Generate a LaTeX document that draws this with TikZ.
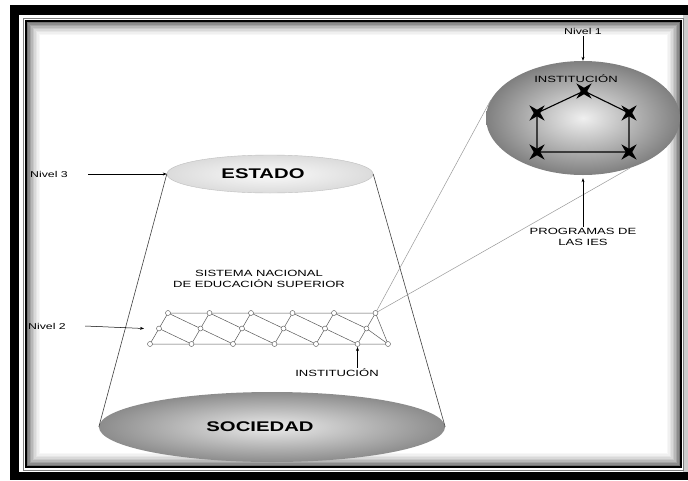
\documentclass[tikz,border=0pt]{standalone}
\usepackage{fontspec}
\setmainfont{Liberation Sans}
\usepackage{graphicx}
\usepackage{tikz}
\usetikzlibrary{positioning, shapes.geometric, arrows.meta}

\newcommand{\wtxt}[1]{\scalebox{1.45}[1]{#1}}

\begin{document}
\begin{tikzpicture}[x=1pt, y=-1pt, >={Stealth[length=4pt, width=3pt]},
        lbl/.style={inner sep=1pt, font=\fontsize{8.5}{10}\selectfont},
        captxt/.style={inner sep=1pt, font=\fontsize{9}{10.5}\selectfont, align=center},
        bigtxt/.style={inner sep=1pt, font=\bfseries\fontsize{14}{16}\selectfont},
        dot/.style={circle, draw=black!70, fill=white, inner sep=0pt, minimum size=5pt, line width=0.4pt},
        vtx/.style={star, star points=4, star point ratio=0.3, fill=black, inner sep=0pt, minimum size=6.5pt},
        zoomline/.style={black!40, line width=0.5pt},
        cone/.style={black!75, line width=0.6pt}]
        \useasboundingbox (0,0) rectangle (688,480);
        \fill[black] (10,5) rectangle (688,480);
        \fill[white] (19,15) rectangle (688,472);
        \fill[black!20] (683,15) rectangle (688,472);
        \draw[black!50, line width=0.8pt] (23,18) rectangle (683,470);
        \foreach \k/\g in {0/55,1/45,2/36,3/28,4/21,5/15,6/10,7/6,8/3}
            \draw[black!\g, line width=1.6pt] (27.5+1.5*\k, 22.5+1.5*\k) rectangle (679.5-1.5*\k, 465.5-1.5*\k);
        \draw[black, line width=2pt] (26,21) rectangle (681,467);

        \node[ellipse, draw=black!25, line width=0.4pt, shade, inner color=black!2, outer color=black!14, minimum width=206pt, minimum height=38pt] (estado) at (270,174) {};
        \node[bigtxt] (estadotxt) at (263,174) {\wtxt{ESTADO}};
        \node[ellipse, shade, inner color=black!8, outer color=black!45, minimum width=346pt, minimum height=70pt] (sociedad) at (272,427) {};
        \node[bigtxt] (sociedadtxt) at (260,427) {\wtxt{SOCIEDAD}};
        \draw[cone] (estado.west) -- (sociedad.west);
        \draw[cone] (estado.east) -- (sociedad.east);

        \node[lbl] (niv3) at (49,174) {\wtxt{Nivel 3}};
        \draw[->, line width=0.5pt] ([xshift=19pt]niv3.east) -- (estado.west);

        \node[captxt] (sistema) at (259,279) {\wtxt{SISTEMA NACIONAL}\\\wtxt{DE EDUCACIÓN SUPERIOR}};

        \foreach \i in {0,...,5} {
            \coordinate (b\i) at (150+41.5*\i, 344);
            \coordinate (t\i) at (168+41.5*\i, 313);
            \coordinate (m\i) at (159+41.5*\i, 328.5);
        }
        \coordinate (br) at (388,344);
        \draw[black!65, line width=0.5pt] (t0) -- (t5) -- (br) -- (b0) -- cycle;
        \foreach \i in {1,...,5}
            \draw[black!65, line width=0.5pt] (b\i) -- (t\i);
        \foreach \i [count=\j from 1] in {0,...,4} {
            \draw[black!65, line width=0.5pt] (t\i) -- (m\j);
            \draw[black!65, line width=0.5pt] (m\i) -- (b\j);
        }
        \draw[black!65, line width=0.5pt] (m5) -- (br);

        \node[ellipse, shade, inner color=black!6, outer color=black!50, minimum width=194pt, minimum height=114pt] (nivel1) at (583,118) {};
        \draw[zoomline] (t5) -- (nivel1.169);
        \draw[zoomline] (t5) -- (nivel1.313);

        \foreach \i in {0,...,5} {
            \node[dot] (dt\i) at (t\i) {};
            \node[dot] (dm\i) at (m\i) {};
            \node[dot] (db\i) at (b\i) {};
        }
        \node[dot] (dbr) at (br) {};

        \node[lbl] (niv2) at (47,326) {\wtxt{Nivel 2}};
        \draw[->, line width=0.5pt] ([xshift=18pt]niv2.east) -- ([xshift=-15pt]m0);

        \node[captxt] (inst) at (337,373) {\wtxt{INSTITUCIÓN}};
        \draw[->, line width=0.5pt] (inst.north -| b5) -- ([yshift=-3pt]b5);

        \node[captxt] (insttop) at (576,79) {\wtxt{INSTITUCIÓN}};
        \coordinate (hp) at (584,91);
        \coordinate (hl) at (537,113);
        \coordinate (hr) at (629,113);
        \coordinate (hbl) at (537,152);
        \coordinate (hbr) at (629,152);
        \draw[line width=1.1pt] (hl) -- (hp) -- (hr) -- (hbr) -- (hbl) -- cycle;
        \foreach \p in {hp,hl,hr,hbl,hbr}
            \node[vtx] (v\p) at (\p) {};

        \node[lbl, above=25pt of nivel1] (niv1) {\wtxt{Nivel 1}};
        \draw[->, line width=0.5pt] (niv1) -- (nivel1.north);
        \node[captxt, below=52pt of nivel1] (prog) {\wtxt{PROGRAMAS DE}\\\wtxt{LAS IES}};
        \draw[->, line width=0.5pt] (prog.north) -- ([yshift=-3pt]nivel1.south);
\end{tikzpicture}
\end{document}
